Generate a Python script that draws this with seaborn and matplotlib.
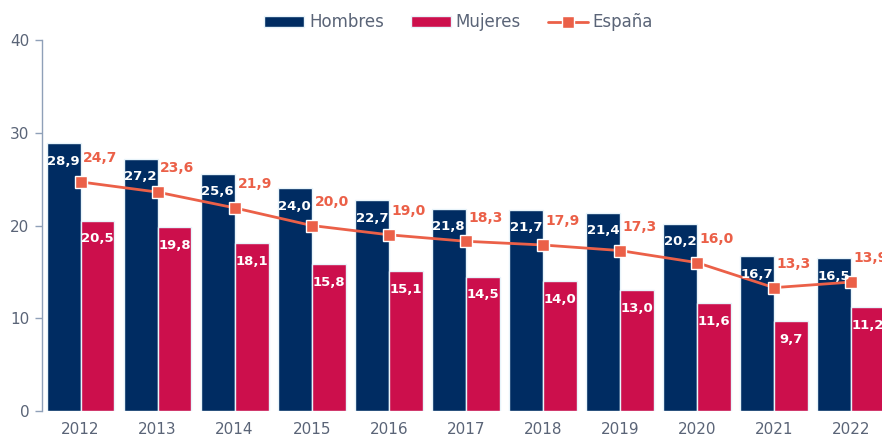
import numpy as np
import pandas as pd
import matplotlib
matplotlib.use("Agg")
import matplotlib.pyplot as plt
from matplotlib.lines import Line2D
from matplotlib.patches import Patch
import seaborn as sns

# datos
anios = ["2012", "2013", "2014", "2015", "2016", "2017", "2018", "2019", "2020", "2021", "2022"]
hombres = [28.9, 27.2, 25.6, 24.0, 22.7, 21.8, 21.7, 21.4, 20.2, 16.7, 16.5]
mujeres = [20.5, 19.8, 18.1, 15.8, 15.1, 14.5, 14.0, 13.0, 11.6, 9.7, 11.2]
espana = [24.7, 23.6, 21.9, 20.0, 19.0, 18.3, 17.9, 17.3, 16.0, 13.3, 13.9]

c_hom = "#002c62"
c_muj = "#cc0f4c"
c_esp = "#eb6048"
c_txt = "#5a6477"

df = pd.DataFrame({
    "Año": anios * 2,
    "Valor": hombres + mujeres,
    "Sexo": ["Hombres"] * len(anios) + ["Mujeres"] * len(anios),
})

sns.set_style("white")
plt.rcParams["font.family"] = ["DejaVu Sans"]

fig = plt.figure(figsize=(8.82, 4.45), dpi=100)
ax = fig.add_axes([42 / 882, 1 - 411 / 445, (889.5 - 42) / 882, (411 - 40) / 445])

sns.barplot(data=df, x="Año", y="Valor", hue="Sexo", order=anios,
            palette=[c_hom, c_muj], saturation=1, width=0.88, gap=0.0,
            edgecolor="#e8f4fa", linewidth=1.0, legend=False, ax=ax)

# línea España
xs = np.arange(len(anios))
ax.plot(xs, espana, color=c_esp, linewidth=2, marker="s", markersize=9,
        markeredgecolor="white", markeredgewidth=1, zorder=5)

# etiquetas de barras
for cont in ax.containers:
    for rect in cont:
        h = rect.get_height()
        ax.annotate(f"{h:.1f}".replace(".", ","),
                    (rect.get_x() + rect.get_width() / 2, h),
                    xytext=(0, -13), textcoords="offset points",
                    ha="center", va="center", color="white",
                    fontsize=9.5, fontweight="bold", zorder=6)

# etiquetas España
for x, v in zip(xs, espana):
    ax.annotate(f"{v:.1f}".replace(".", ","), (x, v),
                xytext=(2, 17), textcoords="offset points",
                ha="left", va="center", color=c_esp,
                fontsize=10, fontweight="bold", zorder=6)

ax.set_ylim(0, 40)
ax.set_xlim(-0.5, len(anios) - 0.5)
ax.set_yticks([0, 10, 20, 30, 40])
ax.set_xlabel("")
ax.set_ylabel("")
ax.tick_params(axis="y", colors=c_txt, labelsize=11, length=5, width=1, direction="out", left=True, pad=4)
ax.tick_params(axis="x", colors=c_txt, labelsize=11, length=0, pad=8)
for lab in ax.get_yticklabels():
    lab.set_color(c_txt)
for lab in ax.get_xticklabels():
    lab.set_color(c_txt)

for s in ["top", "right", "bottom"]:
    ax.spines[s].set_visible(False)
ax.spines["left"].set_color("#8fa0b8")
ax.spines["left"].set_linewidth(1)
ax.tick_params(axis="y", color="#8fa0b8")

handles = [
    Patch(facecolor=c_hom, edgecolor="#e8f4fa"),
    Patch(facecolor=c_muj, edgecolor="#e8f4fa"),
    Line2D([0], [0], color=c_esp, linewidth=2, marker="s", markersize=8,
           markeredgecolor="white"),
]
fig.legend(handles, ["Hombres", "Mujeres", "España"], loc="center",
           bbox_to_anchor=(0.52, 0.95), ncol=3, frameon=False,
           fontsize=12, labelcolor=c_txt, handlelength=2.4, handleheight=0.6,
           columnspacing=1.6, handletextpad=0.3)

fig.savefig("out.png", dpi=100)
